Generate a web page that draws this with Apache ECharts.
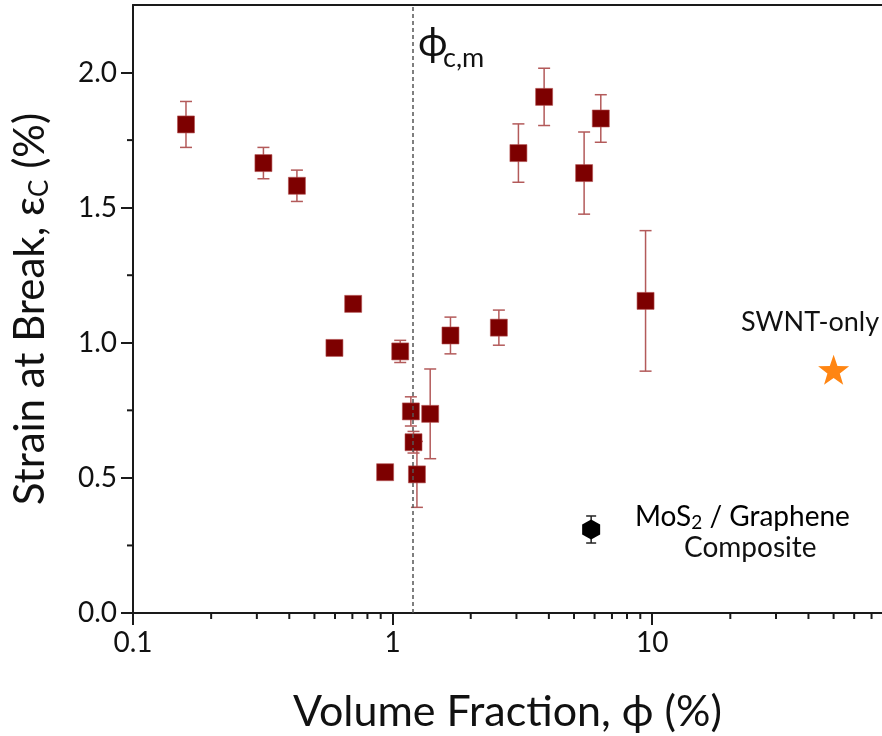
<!DOCTYPE html>
<html>
<head>
<meta charset="utf-8">
<script src="https://cdn.jsdelivr.net/npm/echarts@6/dist/echarts.min.js"></script>
<style>html,body{margin:0;padding:0;background:#fff}#c{width:882px;height:736px}</style>
</head>
<body>
<div id="c"></div>
<script>
// Composite samples (volume fraction %, strain at break %, error)
const phi = [0.160, 0.318, 0.428, 0.597, 0.705, 0.936, 1.070, 1.176, 1.204, 1.241, 1.396, 1.671, 2.567, 3.053, 3.835, 5.468, 6.34, 9.43];
const strain = [1.808, 1.665, 1.581, 0.981, 1.144, 0.521, 0.968, 0.746, 0.632, 0.513, 0.737, 1.027, 1.056, 1.702, 1.910, 1.628, 1.830, 1.155];
const strainErr = [0.085, 0.058, 0.058, 0, 0, 0, 0.041, 0.054, 0.04, 0.122, 0.166, 0.068, 0.065, 0.108, 0.106, 0.152, 0.088, 0.26];
// MoS2 / Graphene composite
const mosPhi = [5.82];
const mosStrain = [0.309];
const mosErr = [0.05];
// SWNT-only
const swntPhi = [50];
const swntStrain = [0.90];
// percolation threshold
const phiCM = 1.2;
// axis ranges & ticks
const xMin = 0.1, xMax = 76.8;
const xTicks = [0.1, 1, 10];
const xMinorTicks = [0.2,0.3,0.4,0.5,0.6,0.7,0.8,0.9,2,3,4,5,6,7,8,9,20,30,40,50,60,70];
const yTicks = [0, 0.5, 1.0, 1.5, 2.0];
const yMinorTicks = [0.25, 0.75, 1.25, 1.75];

const FONT = 'Lato';
const chart = echarts.init(document.getElementById('c'));

const mainPts = phi.map((x, i) => [x, strain[i], strainErr[i]]);
const mosPts = mosPhi.map((x, i) => [x, mosStrain[i], mosErr[i]]);

function errBar(color, cap) {
  return function (params, api) {
    const x = api.value(0), y = api.value(1), e = api.value(2);
    if (!e) return null;
    const top = api.coord([x, y + e]);
    const bot = api.coord([x, y - e]);
    const style = { stroke: color, lineWidth: 1.5, fill: null };
    return {
      type: 'group',
      children: [
        { type: 'line', shape: { x1: top[0], y1: top[1], x2: bot[0], y2: bot[1] }, style },
        { type: 'line', shape: { x1: top[0] - cap, y1: top[1], x2: top[0] + cap, y2: top[1] }, style },
        { type: 'line', shape: { x1: bot[0] - cap, y1: bot[1], x2: bot[0] + cap, y2: bot[1] }, style }
      ]
    };
  };
}

const hexPath = 'path://M0,-10L8.66,-5L8.66,5L0,10L-8.66,5L-8.66,-5Z';
const starPath = 'path://M0,-10L2.35,-3.24L9.51,-3.09L3.8,1.24L5.88,8.09L0,4L-5.88,8.09L-3.8,1.24L-9.51,-3.09L-2.35,-3.24Z';
const axisCol = '#1a1a1a';

const option = {
  animation: false,
  backgroundColor: '#fff',
  grid: { left: 133, top: 5, right: 0, bottom: 123, containLabel: false, outerBoundsMode: 'none' },
  xAxis: [{
    type: 'log', logBase: 10, min: xMin, max: xMax,
    name: 'Volume Fraction, ϕ (%)', nameLocation: 'middle', nameGap: 78,
    nameTextStyle: { fontFamily: FONT, fontSize: 43, color: '#111' },
    axisLine: { show: true, lineStyle: { color: axisCol, width: 2 } },
    axisTick: { show: true, length: 12, lineStyle: { color: axisCol, width: 2 }, customValues: xTicks },
    axisLabel: { fontFamily: FONT, fontSize: 28, color: '#111', margin: 16, customValues: xTicks, formatter: v => String(+(+v).toPrecision(3)) },
    splitLine: { show: false }
  }, {
    type: 'log', logBase: 10, min: xMin, max: xMax, position: 'top',
    axisLine: { show: true, lineStyle: { color: axisCol, width: 2 } },
    axisTick: { show: false }, axisLabel: { show: false }, splitLine: { show: false }
  }],
  yAxis: {
    type: 'value', min: 0, max: 2.25, interval: 0.5,
    name: 'Strain at Break, ε{s|C} (%)', nameLocation: 'middle', nameGap: 80, nameRotate: 90,
    nameTextStyle: { fontFamily: FONT, fontSize: 42, color: '#111', rich: { s: { fontFamily: FONT, fontSize: 26, color: '#111', padding: [20, 0, 0, 0] } } },
    axisLine: { show: true, lineStyle: { color: axisCol, width: 2 } },
    axisTick: { show: true, length: 12, lineStyle: { color: axisCol, width: 2 }, customValues: yTicks },
    axisLabel: { fontFamily: FONT, fontSize: 28, color: '#111', margin: 16, customValues: yTicks, formatter: v => (+v).toFixed(1) },
    splitLine: { show: false }
  },
  series: [
    {
      type: 'custom', name: 'xminor', clip: false, silent: true, z: 1,
      data: xMinorTicks.map(v => [v, 0]),
      renderItem: (params, api) => {
        const p = api.coord([api.value(0), 0]);
        return { type: 'line', shape: { x1: p[0], y1: p[1], x2: p[0], y2: p[1] + 6 }, style: { stroke: axisCol, lineWidth: 2 } };
      }
    },
    {
      type: 'custom', name: 'yminor', clip: false, silent: true, z: 1,
      data: yMinorTicks.map(v => [xMin, v]),
      renderItem: (params, api) => {
        const p = api.coord([xMin, api.value(1)]);
        return { type: 'line', shape: { x1: p[0] - 6, y1: p[1], x2: p[0], y2: p[1] }, style: { stroke: axisCol, lineWidth: 2 } };
      }
    },
    {
      type: 'custom', name: 'err', clip: false, silent: true, z: 2,
      data: mainPts, renderItem: errBar('#b35a5a', 6)
    },
    {
      type: 'scatter', name: 'composite', data: mainPts, z: 3,
      symbol: 'rect', symbolSize: 17,
      itemStyle: { color: '#7d0000', borderColor: 'rgba(180,80,80,0.6)', borderWidth: 1, opacity: 1 },
      markLine: {
        silent: true, symbol: ['none', 'none'], label: { show: false },
        lineStyle: { type: [4, 3], color: '#555', width: 1.5 },
        data: [{ xAxis: phiCM }]
      }
    },
    {
      type: 'custom', name: 'mosErr', clip: false, silent: true, z: 2,
      data: mosPts, renderItem: errBar('#222', 5)
    },
    {
      type: 'scatter', name: 'MoS2', data: mosPts, z: 3,
      symbol: hexPath, symbolSize: [18, 20],
      itemStyle: { color: '#000', opacity: 1 }
    },
    {
      type: 'scatter', name: 'SWNT', data: swntPhi.map((x, i) => [x, swntStrain[i]]), z: 3,
      symbol: starPath, symbolSize: [31, 30],
      itemStyle: { color: '#ff8512', opacity: 1 }
    }
  ],
  graphic: [
    { type: 'text', left: 418, top: 23, style: { text: 'ϕ', fontFamily: FONT, fontSize: 40, fill: '#111' } },
    { type: 'text', left: 443, top: 45, style: { text: 'c,m', fontFamily: FONT, fontSize: 27, fill: '#111' } },
    { type: 'text', left: 741, top: 309, style: { text: 'SWNT-only', fontFamily: FONT, fontSize: 27, fill: '#111' } },
    { type: 'text', left: 635, top: 503, style: { text: '{a|MoS}{b|2}{a| / Graphene}', rich: { a: { fontFamily: FONT, fontSize: 28, color: '#111' }, b: { fontFamily: FONT, fontSize: 19, color: '#111', padding: [12, 0, 0, 0] } } } },
    { type: 'text', left: 684, top: 534, style: { text: 'Composite', fontFamily: FONT, fontSize: 28, fill: '#111' } }
  ]
};
chart.setOption(option);
</script>
</body>
</html>
